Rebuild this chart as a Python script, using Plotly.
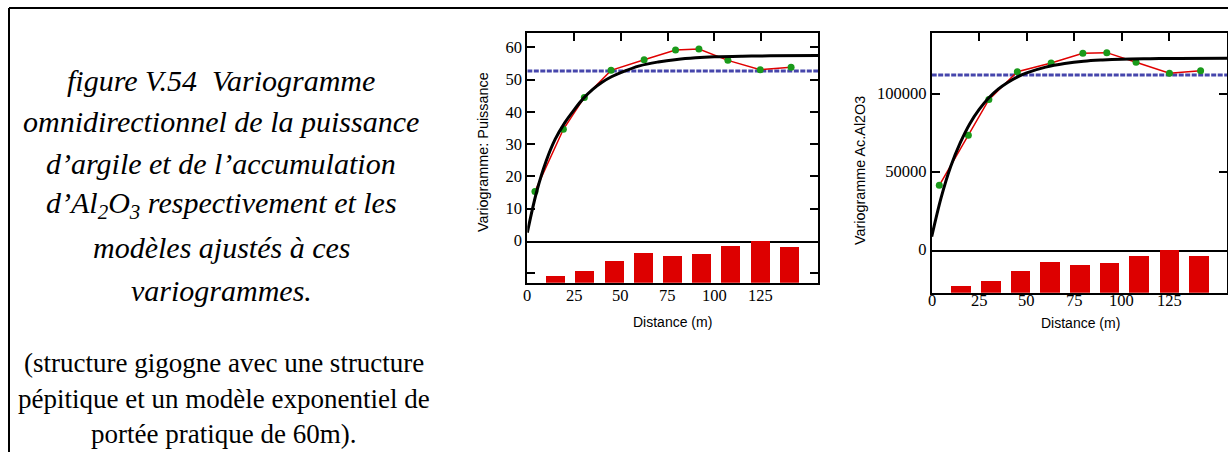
import plotly.graph_objects as go

# ======================================================================================================
# Data
# ======================================================================================================

# experimental variogram - puissance d'argile
lag_puis = [4.1, 19.3, 30.5, 44.8, 62.5, 79.3, 91.8, 107.3, 124.6, 141.1]
gamma_puis = [15.3, 34.6, 44.5, 52.9, 56.2, 59.2, 59.5, 56.0, 53.1, 53.9]
variance_puis = 52.7

# experimental variogram - accumulation Al2O3
lag_al = [4.0, 19.3, 30.1, 45.1, 62.9, 79.6, 92.2, 107.6, 125.2, 141.6]
gamma_al = [41300, 73300, 96200, 114100, 119700, 125900, 126300, 120100, 113100, 114700]
variance_al = 112000

# fitted models (nugget + exponential)
model_h = [0, 5, 10, 15, 20, 25, 30, 35, 40, 45, 50, 60, 70, 80, 90, 100, 115, 130, 155.5]
model_puis = [2.5, 15.2, 24.6, 31.6, 36.6, 40.6, 44.2, 47.0, 49.2, 50.9, 52.2, 54.3, 55.5, 56.3, 56.8, 57.1, 57.3, 57.4, 57.5]
model_al = [8300, 33500, 53300, 68400, 80600, 89900, 97200, 102900, 107200, 110600, 113300, 117000,
            119300, 120800, 121600, 122100, 122400, 122600, 122700]

# number of pairs per distance class (relative, %)
class_centres = [15.3, 31.0, 46.6, 62.2, 78.0, 93.4, 109.0, 124.9, 140.5]
npairs = [17, 28, 52, 71, 65, 69, 87, 100, 85]

x_ticks = [0, 25, 50, 75, 100, 125]
x_max = 155.5

# ======================================================================================================
# Plot
# ======================================================================================================

W, H = 1228, 452
SERIF = "Liberation Serif, Times New Roman, serif"
SANS = "Liberation Sans, Arial, sans-serif"


def px_x(p):
    return p / W


def px_y(p):
    return 1 - p / H


fig = go.Figure()


def add_panel(fig, lags, gammas, sill, model, n, xa, ya, xh, yh):
    fig.add_trace(go.Scatter(x=[0, x_max], y=[sill, sill], mode="lines",
                             line=dict(color="#4646ac", width=3, dash="5px,1.5px"),
                             xaxis=xa, yaxis=ya))
    fig.add_trace(go.Scatter(x=lags, y=gammas, mode="lines+markers",
                             line=dict(color="#e00000", width=1.5),
                             marker=dict(color="#1a9a1a", size=7),
                             xaxis=xa, yaxis=ya))
    fig.add_trace(go.Scatter(x=model_h, y=model, mode="lines",
                             line=dict(color="black", width=3, shape="spline"),
                             xaxis=xa, yaxis=ya))
    fig.add_trace(go.Bar(x=class_centres, y=n, width=10.2, marker=dict(color="#dd0000", line_width=0),
                         xaxis=xh, yaxis=yh))


add_panel(fig, lag_puis, gamma_puis, variance_puis, model_puis, npairs, "x", "y", "x2", "y2")
add_panel(fig, lag_al, gamma_al, variance_al, model_al, npairs, "x3", "y3", "x4", "y4")

# automargin off: otherwise plotly pushes the bottom margin and squeezes everything
axis_common = dict(showgrid=False, zeroline=False, showline=True, linecolor="black", linewidth=2,
                   tickcolor="black", tickwidth=1.5, ticklen=8, automargin=False,
                   tickfont=dict(family=SERIF, size=16.5, color="black"))

left_dom = [px_x(527.3), px_x(818)]
right_dom = [px_x(931.7), px_x(1227)]

fig.update_layout(
    width=W, height=H, autosize=False,
    margin=dict(l=0, r=0, t=0, b=0, autoexpand=False),
    paper_bgcolor="white", plot_bgcolor="white",
    showlegend=False, bargap=0,
    # left panel
    xaxis=dict(axis_common, domain=left_dom, range=[0, x_max], anchor="y", side="top",
               ticks="inside", tickvals=x_ticks, showticklabels=False, mirror=True),
    yaxis=dict(axis_common, domain=[px_y(240.7), px_y(33)], range=[0, 64.5], anchor="x",
               ticks="inside", dtick=10, mirror="ticks"),
    xaxis2=dict(axis_common, domain=left_dom, range=[0, x_max], anchor="y2",
                ticks="", showticklabels=False),
    yaxis2=dict(axis_common, domain=[px_y(282.7), px_y(240.7)], range=[0, 100], anchor="x2",
                ticks="inside", tickvals=[23], showticklabels=False, mirror="ticks"),
    # right panel
    xaxis3=dict(axis_common, domain=right_dom, range=[0, x_max], anchor="y3", side="top",
                ticks="inside", tickvals=x_ticks, showticklabels=False, mirror=True),
    yaxis3=dict(axis_common, domain=[px_y(249.7), px_y(33.3)], range=[0, 138700], anchor="x3",
                ticks="inside", tickvals=[0, 50000, 100000], tickformat="d", mirror="ticks"),
    xaxis4=dict(axis_common, domain=right_dom, range=[0, x_max], anchor="y4",
                ticks="", showticklabels=False),
    yaxis4=dict(axis_common, domain=[px_y(292.7), px_y(249.7)], range=[0, 100], anchor="x4",
                ticks="", showticklabels=False, mirror=True),
)

# distance tick labels, placed on the x scale a bit closer to the axis than plotly does
for xref, ypos in [("x2", 295), ("x4", 300)]:
    for v in x_ticks:
        fig.add_annotation(text=str(v), x=v, xref=xref, y=px_y(ypos), yref="paper",
                           showarrow=False, xanchor="center", yanchor="middle",
                           font=dict(family=SERIF, size=16.5, color="black"))

# axis titles
titles = [
    ("Distance (m)", 672, 321.7, 0, 14),
    ("Distance (m)", 1080, 323.3, 0, 14),
    ("Variogramme: Puissance", 483, 152, -90, 14.4),
    ("Variogramme Ac.Al2O3", 860, 171, -90, 14.4),
]
for txt, x, y, ang, size in titles:
    fig.add_annotation(text=txt, x=px_x(x), y=px_y(y), xref="paper", yref="paper",
                       showarrow=False, textangle=ang, xanchor="center", yanchor="middle",
                       font=dict(family=SANS, size=size, color="black"))

# caption
caption = [
    "figure V.54  Variogramme",
    "omnidirectionnel de la puissance",
    "d’argile et de l’accumulation",
    "d’Al<sub>2</sub>O<sub>3</sub> respectivement et les",
    "modèles ajustés à ces",
    "variogrammes.",
]
caption_y = [80.7, 121.7, 163.3, 205, 248, 290]
for txt, y in zip(caption, caption_y):
    fig.add_annotation(text="<i>" + txt + "</i>", x=px_x(221), y=px_y(y), xref="paper", yref="paper",
                       showarrow=False, xanchor="center", yanchor="middle",
                       font=dict(family=SERIF, size=30, color="black"))

note = [
    "(structure gigogne avec une structure",
    "pépitique et un modèle exponentiel de",
    "portée pratique de 60m).",
]
note_y = [363, 399, 434]
for txt, y in zip(note, note_y):
    fig.add_annotation(text=txt, x=px_x(223.5), y=px_y(y), xref="paper", yref="paper",
                       showarrow=False, xanchor="center", yanchor="middle",
                       font=dict(family=SERIF, size=27, color="black"))

# outer frame of the figure
fig.add_shape(type="line", xref="paper", yref="paper", x0=px_x(9), x1=px_x(9), y0=0, y1=px_y(8),
              line=dict(color="black", width=2))
fig.add_shape(type="line", xref="paper", yref="paper", x0=px_x(9), x1=1, y0=px_y(8), y1=px_y(8),
              line=dict(color="black", width=2))

# no body margin, so the figure fills the window exactly
page_fix = ("document.documentElement.style.overflow = 'hidden';"
            "document.body.style.margin = '0';"
            "document.body.style.overflow = 'hidden';")

fig.write_html("out.html", config={"displayModeBar": False, "responsive": False},
               post_script=page_fix)
